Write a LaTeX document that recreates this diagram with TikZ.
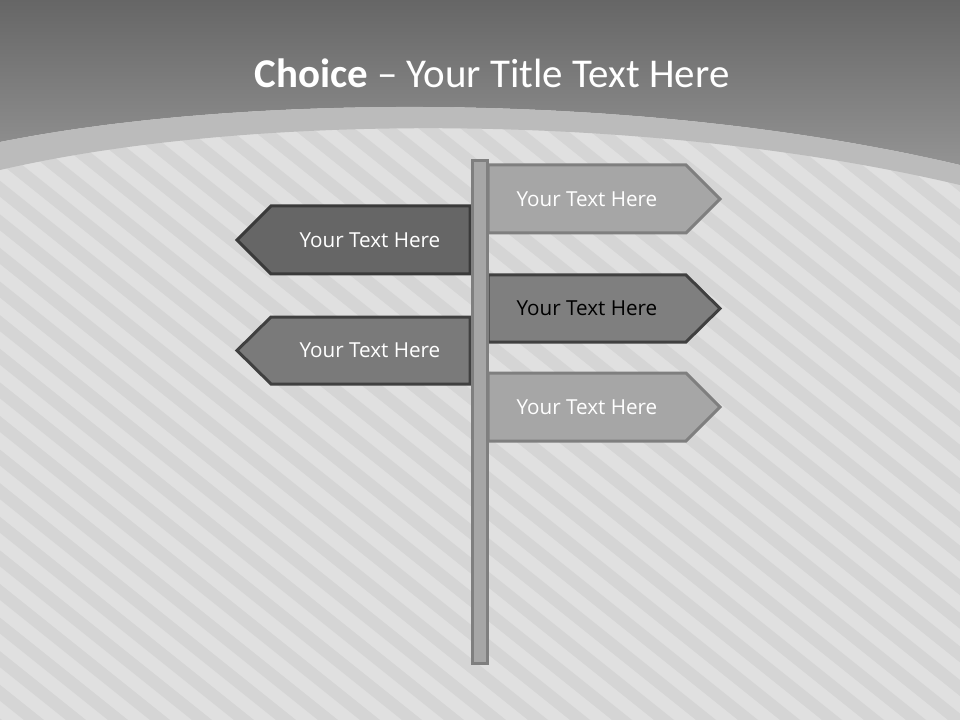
\documentclass[tikz,border=0pt]{standalone}
\usepackage{fontspec}
\setmainfont{Carlito}
\newfontfamily\signfont{Open Sans}
\definecolor{bgc}{HTML}{E0E0E0}
\definecolor{stripec}{HTML}{D5D5D5}
\definecolor{topA}{HTML}{666666}
\definecolor{topB}{HTML}{939393}
\definecolor{bandc}{HTML}{BBBBBB}
\definecolor{lightfill}{HTML}{A6A6A6}
\definecolor{lightedge}{HTML}{7F7F7F}
\definecolor{darkfill}{HTML}{666666}
\definecolor{darkedge}{HTML}{3A3A3A}
\definecolor{midfill}{HTML}{7F7F7F}
\definecolor{midfillb}{HTML}{7A7A7A}
\definecolor{midedge}{HTML}{404040}
\tikzset{
  lightsign/.style={fill=lightfill, draw=lightedge, line width=2.25pt, line join=miter},
  darksign/.style={fill=darkfill, draw=darkedge, line width=2.25pt, line join=miter},
  midsign/.style={fill=midfill, draw=midedge, line width=2.25pt, line join=miter},
  midsignb/.style={fill=midfillb, draw=midedge, line width=2.25pt, line join=miter},
  signtext/.style={font=\signfont\fontsize{15.5}{19}\selectfont, text=white, inner sep=0pt},
  poststyle/.style={fill=lightfill, draw=lightedge, line width=2.25pt}
}
\begin{document}
\begin{tikzpicture}[x=0.75pt,y=-0.75pt]
\useasboundingbox (0,0) rectangle (960,720);
% background
\fill[bgc] (0,0) rectangle (960,720);
\begin{scope}
\clip (0,0) rectangle (960,720);
\foreach \i in {-960,-918,...,960}
  \fill[stripec] (\i,0) -- ++(20,0) -- ++(900,720) -- ++(-20,0) -- cycle;
\end{scope}
\shade[top color=topA, bottom color=topB]
  (0,0) -- (960,0) -- (960,165) .. controls (650,92) and (250,92) .. (0,142) -- cycle;
\fill[bandc]
  (0,142) .. controls (250,92) and (650,92) .. (960,165) -- (960,185)
  .. controls (650,112) and (250,112) .. (0,170) -- cycle;
% title
\node[anchor=base, text=white, font=\fontsize{30.7}{36}\selectfont, inner sep=0pt] (title) at (492,88)
  {\textbf{Choice} – Your Title Text Here};
% right signs
\draw[lightsign] (488,165) -- (686,165) -- (720,199) -- (686,233) -- (488,233) -- cycle;
\draw[midsign] (488,275) -- (686,275) -- (720,308.5) -- (686,342) -- (488,342) -- cycle;
\draw[lightsign] (488,373) -- (686,373) -- (720,407) -- (686,441) -- (488,441) -- cycle;
% left signs
\draw[darksign] (470,206) -- (271,206) -- (237,240) -- (271,274) -- (470,274) -- cycle;
\draw[midsignb] (470,317) -- (271,317) -- (237,350.5) -- (271,384) -- (470,384) -- cycle;
% post
\draw[poststyle] (472,161) rectangle (487,663);
% texts
\node[signtext] (r1) at (587,199) {Your Text Here};
\node[signtext, text=black] (r2) at (587,308.5) {Your Text Here};
\node[signtext] (r3) at (587,407) {Your Text Here};
\node[signtext] (l1) at (370,240) {Your Text Here};
\node[signtext] (l2) at (370,350.5) {Your Text Here};
\end{tikzpicture}
\end{document}
